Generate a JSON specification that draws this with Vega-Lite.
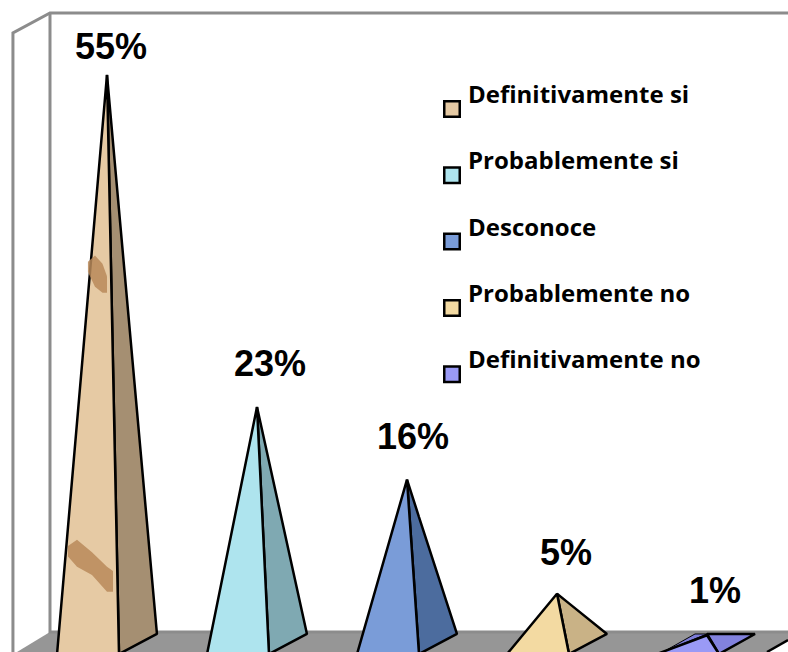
{
"$schema":"https://vega.github.io/schema/vega-lite/v6.json",
"width":788,"height":652,"padding":0,
"autosize":{"type":"fit","contains":"padding"},
"background":"white",
"config":{"view":{"stroke":null}},
"datasets":{
"piso":[{"x":-0.6,"y":-0.617,"y2":-0.617},{"x":-0.38,"y":1.31,"y2":-0.617},{"x":4.4,"y":1.31,"y2":-0.617},{"x":4.54,"y":1.31,"y2":0.54}],
"muro":[
{"linea":"a","o":1,"x":-0.627,"y":-0.617},{"linea":"a","o":2,"x":-0.627,"y":59.05},{"linea":"a","o":3,"x":-0.38,"y":60.97},{"linea":"a","o":4,"x":4.54,"y":60.97},
{"linea":"b","o":1,"x":-0.38,"y":60.97},{"linea":"b","o":2,"x":-0.38,"y":1.31},{"linea":"b","o":3,"x":4.54,"y":1.31}],
"borde":[{"o":1,"x":4.4,"y":-0.617},{"o":2,"x":4.54,"y":0.54}],
"izq":[
{"r":"Definitivamente si","x":-0.333,"y":-0.81,"y2":-0.81},{"r":"Definitivamente si","x":0,"y":55,"y2":-0.81},{"r":"Definitivamente si","x":0.08,"y":-0.81,"y2":-0.81},
{"r":"Probablemente si","x":0.667,"y":-0.81,"y2":-0.81},{"r":"Probablemente si","x":1,"y":23,"y2":-0.81},{"r":"Probablemente si","x":1.08,"y":-0.81,"y2":-0.81},
{"r":"Desconoce","x":1.667,"y":-0.81,"y2":-0.81},{"r":"Desconoce","x":2,"y":16,"y2":-0.81},{"r":"Desconoce","x":2.08,"y":-0.81,"y2":-0.81},
{"r":"Probablemente no","x":2.667,"y":-0.81,"y2":-0.81},{"r":"Probablemente no","x":3,"y":5,"y2":-0.81},{"r":"Probablemente no","x":3.08,"y":-0.81,"y2":-0.81},
{"r":"Definitivamente no","x":3.667,"y":-0.81,"y2":-0.81},{"r":"Definitivamente no","x":4,"y":1,"y2":-0.81},{"r":"Definitivamente no","x":4.08,"y":-0.81,"y2":-0.81}],
"der":[
{"r":"Definitivamente si","x":0,"y":55,"y2":55},{"r":"Definitivamente si","x":0.08,"y":42,"y2":-0.81},{"r":"Definitivamente si","x":0.333,"y":1.12,"y2":1.12},
{"r":"Probablemente si","x":1,"y":23,"y2":23},{"r":"Probablemente si","x":1.08,"y":17.75,"y2":-0.81},{"r":"Probablemente si","x":1.333,"y":1.12,"y2":1.12},
{"r":"Desconoce","x":2,"y":16,"y2":16},{"r":"Desconoce","x":2.08,"y":12.39,"y2":-0.81},{"r":"Desconoce","x":2.333,"y":1.12,"y2":1.12},
{"r":"Probablemente no","x":3,"y":5,"y2":5},{"r":"Probablemente no","x":3.08,"y":4.07,"y2":-0.81},{"r":"Probablemente no","x":3.333,"y":1.12,"y2":1.12},
{"r":"Definitivamente no","x":4,"y":1.12,"y2":1.12},{"r":"Definitivamente no","x":4.08,"y":1.12,"y2":-0.81},{"r":"Definitivamente no","x":4.32,"y":1.12,"y2":1.12}],
"atras":[{"x":3.707,"y":-0.617,"y2":-0.617},{"x":3.92,"y":1.12,"y2":0.65},{"x":4,"y":1.12,"y2":1.12}],
"manchas":[
{"m":"a","x":-0.127,"y":37.0,"y2":36.0},{"m":"a","x":-0.08,"y":37.6,"y2":34.6},{"m":"a","x":-0.03,"y":36.8,"y2":34.0},{"m":"a","x":0.0,"y":35.6,"y2":34.0},
{"m":"b","x":-0.26,"y":9.6,"y2":8.6},{"m":"b","x":-0.2,"y":10.2,"y2":7.6},{"m":"b","x":-0.1,"y":9.0,"y2":6.8},{"m":"b","x":0.0,"y":7.6,"y2":5.2},{"m":"b","x":0.04,"y":7.2,"y2":5.2}],
"etiquetas":[
{"t":"55%","x":0.027,"y":57.6},{"t":"23%","x":1.087,"y":27.04},{"t":"16%","x":2.04,"y":20.0},{"t":"5%","x":3.06,"y":8.83},{"t":"1%","x":4.053,"y":5.16}]
},
"encoding":{
"x":{"field":"x","type":"quantitative","axis":null,"scale":{"domain":[-0.7133,4.54],"nice":false,"zero":false}},
"y":{"field":"y","type":"quantitative","axis":null,"stack":null,"scale":{"domain":[-0.617,62.227],"nice":false,"zero":false}}
},
"layer":[
{"data":{"name":"piso"},"mark":{"type":"area","color":"#969696","clip":true},"encoding":{"y2":{"field":"y2"}}},
{"data":{"name":"muro"},"mark":{"type":"line","color":"#8c8c8c","strokeWidth":3,"clip":true},"encoding":{"detail":{"field":"linea"},"order":{"field":"o","type":"quantitative"}}},
{"data":{"name":"borde"},"mark":{"type":"line","color":"black","strokeWidth":2.5,"clip":true},"encoding":{"order":{"field":"o","type":"quantitative"}}},
{"data":{"name":"atras"},"mark":{"type":"area","color":"#7c7cd6","stroke":"black","strokeWidth":1,"clip":true},"encoding":{"y2":{"field":"y2"}}},
{"data":{"name":"der"},"mark":{"type":"area","stroke":"black","strokeWidth":2.5,"strokeJoin":"bevel","clip":true},"encoding":{"y2":{"field":"y2"},
"fill":{"field":"r","type":"nominal","legend":null,"scale":{"domain":["Definitivamente si","Probablemente si","Desconoce","Probablemente no","Definitivamente no"],"range":["#a58f72","#7fa9b2","#4c6c9e","#c9b286","#8282de"]}}}},
{"data":{"name":"izq"},"mark":{"type":"area","stroke":"black","strokeWidth":2.5,"strokeJoin":"bevel","clip":true},"encoding":{"y2":{"field":"y2"},
"fill":{"field":"r","type":"nominal","scale":{"domain":["Definitivamente si","Probablemente si","Desconoce","Probablemente no","Definitivamente no"],"range":["#e6caa4","#aee4ee","#7a9cd8","#f3daa2","#9a9af6"]},
"legend":{"title":null,"orient":"none","legendX":440,"legendY":97,"symbolType":"square","symbolSize":240,"symbolStrokeColor":"black","symbolStrokeWidth":2.5,"symbolOpacity":1,"rowPadding":28.3,"labelFont":"Open Sans","labelFontWeight":"bold","labelFontSize":24,"labelColor":"black","labelOffset":4,"labelBaseline":"line-bottom","labelLimit":300}}}},
{"data":{"name":"manchas"},"mark":{"type":"area","color":"#b98a5a","opacity":0.85,"clip":true},"encoding":{"y2":{"field":"y2"},"detail":{"field":"m"}}},
{"data":{"name":"etiquetas"},"mark":{"type":"text","font":"Liberation Sans","fontWeight":"bold","fontSize":36,"color":"black","baseline":"middle","align":"center"},"encoding":{"text":{"field":"t"}}}
],
"resolve":{"scale":{"fill":"independent"}}
}
